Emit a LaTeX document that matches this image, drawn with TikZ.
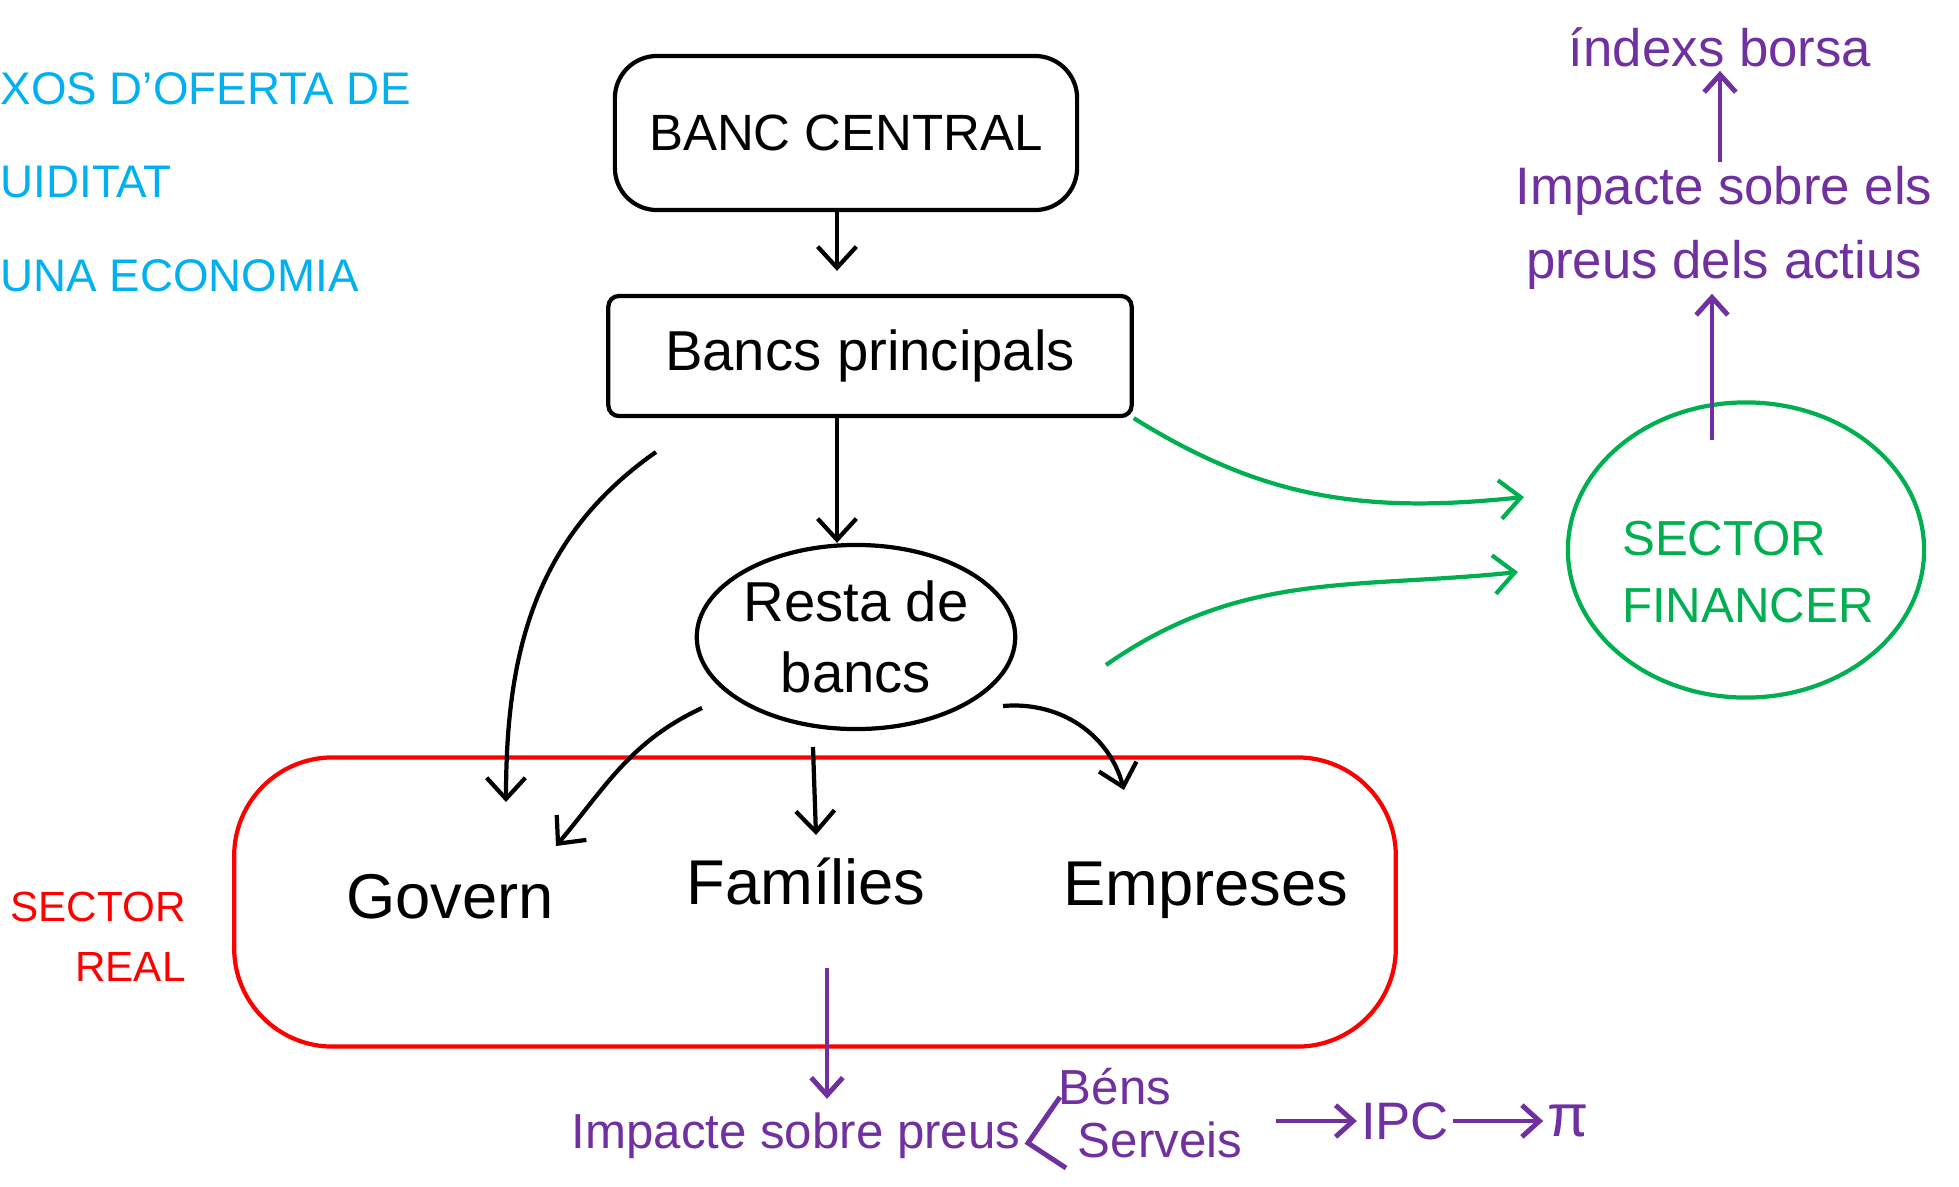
\documentclass[tikz,border=0pt]{standalone}
\usepackage{fontspec}
\setmainfont{Liberation Sans}
\usetikzlibrary{arrows.meta, positioning, shapes.geometric}
\definecolor{blau}{RGB}{0,176,240}
\definecolor{verd}{RGB}{0,176,80}
\definecolor{lila}{RGB}{112,48,160}
\definecolor{vermell}{RGB}{255,0,0}

\begin{document}
\begin{tikzpicture}[x=0.01cm, y=0.01cm,
  caixa/.style={rectangle,draw,line width=1.2pt,inner sep=0pt,font=\fontsize{15}{18}\selectfont},
  bola/.style={ellipse,draw,line width=1.2pt,inner sep=0pt,align=center,font=\fontsize{16}{20}\selectfont},
  real/.style={rectangle,draw=vermell,line width=1.2pt,rounded corners=28pt},
  agent/.style={font=\fontsize{18}{22}\selectfont},
  rlbl/.style={text=vermell,align=right,font=\fontsize{12}{17}\selectfont},
  fin/.style={ellipse,draw=verd,line width=1.2pt,inner sep=0pt},
  flbl/.style={text=verd,align=left,inner sep=0pt,font=\fontsize{14}{17}\selectfont},
  plbl/.style={text=lila,inner sep=1pt},
  negre/.style={-{Straight Barb[length=6pt,width=11pt]},line width=1.2pt},
  garr/.style={-{Straight Barb[length=6pt,width=11pt]},line width=1.2pt,verd},
  parr/.style={-{Straight Barb[length=5pt,width=9pt]},line width=1.4pt,lila},
  titol/.style={text=blau,align=left,anchor=north west,inner sep=0pt,font=\fontsize{13}{26.5}\selectfont}
]
  \useasboundingbox (0,0) rectangle (1959,-1187);
  \node[titol](tt) at (0,-72) {XOS D'OFERTA DE\\UIDITAT\\UNA ECONOMIA};
  \node[caixa, rounded corners=12pt, minimum width=4.62cm, minimum height=1.54cm, font=\fontsize{14.5}{18}\selectfont](bc) at (846,-133) {BANC CENTRAL};
  \node[caixa, rounded corners=3pt, minimum width=5.23cm, minimum height=1.2cm, font=\fontsize{16}{20}\selectfont](bp) at (870,-356) {Bancs principals};
  \node[bola, minimum width=2.75cm, minimum height=1.84cm](rb) at (856,-637) {Resta de\\bancs};
  \node[real, minimum width=11.61cm, minimum height=2.89cm](sreal) at (815,-902) {};
  \node[agent](gov) at (450,-897) {Govern};
  \node[agent](fam) at (806,-881) {Famílies};
  \node[agent](emp) at (1206,-890) {Empreses};
  \node[rlbl](sr) at (98,-937) {SECTOR\\REAL};
  \node[fin, minimum width=3.56cm, minimum height=2.95cm](sf) at (1746,-550) {};
  \node[flbl](sft) at (1748,-572) {SECTOR\\[2pt]FINANCER};
  \node[plbl, align=center, font=\fontsize{15}{21}\selectfont](ipa) at (1724,-228) {Impacte sobre els\\preus dels actius};
  \node[plbl, font=\fontsize{15}{18}\selectfont](idx) at (1720,-47) {índexs borsa};
  \node[plbl, font=\fontsize{14}{18}\selectfont](ipr) at (796,-1136) {Impacte sobre preus};
  \node[plbl, font=\fontsize{14}{17}\selectfont](bens) at (1115,-1087) {Béns};
  \node[plbl, font=\fontsize{14}{17}\selectfont](serv) at (1160,-1140) {Serveis};
  \node[plbl, font=\fontsize{15}{18}\selectfont](ipc) at (1405,-1121) {IPC};
  \node[plbl, font=\fontsize{17}{18}\selectfont](pi) at (1568,-1121) {π};
  \coordinate (eix) at (837,0);
  \coordinate (bpgov) at (656,-452);
  \coordinate (govdalt) at (506,-802);
  \coordinate (rbgov) at (702,-708);
  \coordinate (govdreta) at (556,-846);
  \coordinate (rbfam) at (813,-747);
  \coordinate (famdalt) at (816,-835);
  \coordinate (rbemp) at (1003,-706);
  \coordinate (empdalt) at (1124,-790);
  \coordinate (rbfin) at (1106,-665);
  \coordinate (sfa) at (1524,-497);
  \coordinate (sfb) at (1518,-572);
  \coordinate (sfdalt) at (1712,-440);
  \coordinate (famsota) at (827,-968);
  \coordinate (clau1) at (1060,-1097);
  \coordinate (clau) at (1028,-1143);
  \coordinate (clau2) at (1066,-1168);
  \draw[negre](bc.south -| eix) -- ([yshift=0.23cm]bp.north -| eix);
  \draw[negre](bp.south -| eix) -- (rb.north -| eix);
  \draw[negre](bpgov) to[out=215, in=90] (govdalt);
  \draw[negre](rbgov) to[out=205, in=50] (govdreta);
  \draw[negre](rbfam) -- (famdalt);
  \draw[negre](rbemp) to[out=5, in=105] (empdalt);
  \draw[garr](bp.south east) to[out=-32, in=186] (sfa);
  \draw[garr](rbfin) to[out=35, in=186] (sfb);
  \draw[parr](sfdalt) -- (sfdalt |- ipa.south);
  \draw[parr](ipa.north -| idx) -- (idx.south);
  \draw[parr](famsota) -- ([yshift=0.1cm]ipr.north -| famsota);
  \draw[lila, line width=1.4pt](clau1) -- (clau) -- (clau2);
  \draw[parr]([xshift=0.3cm]serv.east |- ipc.west) -- (ipc.west);
  \draw[parr](ipc.east) -- (pi.west);
\end{tikzpicture}
\end{document}
